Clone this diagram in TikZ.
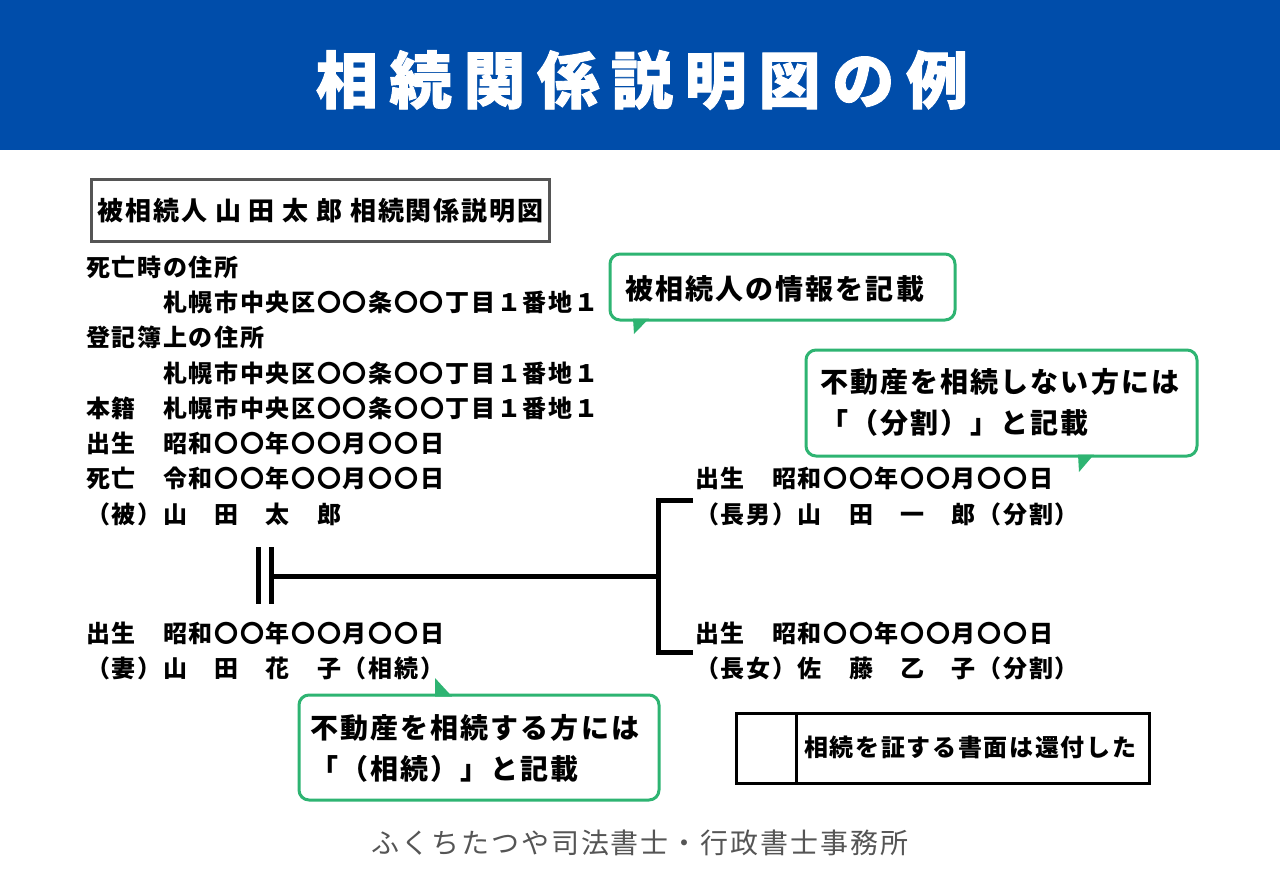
\documentclass[tikz,border=0pt]{standalone}
\usepackage{fontspec}
\newfontfamily\jp{Noto Sans CJK JP}
\newfontfamily\jptitle{Noto Sans CJK JP}[BoldFeatures={FakeBold=1.5}]
\definecolor{hdrblue}{RGB}{0,77,170}
\definecolor{cgreen}{RGB}{46,180,114}
\definecolor{boxgray}{RGB}{85,85,85}
\definecolor{footgray}{RGB}{85,85,85}
\tikzset{
  body/.style={font=\jp\bfseries\fontsize{24}{24}\selectfont\addfontfeatures{LetterSpace=7}, anchor=west, inner sep=0pt},
  ctext/.style={font=\jp\bfseries\fontsize{28}{41}\selectfont\addfontfeatures{LetterSpace=7.5}, anchor=west, inner sep=0pt, align=left},
  callout/.style={draw=cgreen, line width=3pt, rounded corners=10pt, fill=white},
  tail/.style={fill=cgreen, draw=none},
  treeline/.style={line width=5pt, line join=miter},
  plainbox/.style={draw=black, line width=3pt, inner sep=0pt}
}
\begin{document}
\begin{tikzpicture}[x=1pt,y=-1pt]
\useasboundingbox[fill=white] (0,0) rectangle (1280,878);
% header
\fill[hdrblue] (0,0) rectangle (1280,150);
\node[font=\jptitle\bfseries\fontsize{62}{62}\selectfont\addfontfeatures{LetterSpace=19}, text=white, inner sep=0pt] (title) at (642,80) {相続関係説明図の例};
% title box
\node[draw=boxgray, line width=3pt, minimum width=458pt, minimum height=62pt, anchor=north west, inner sep=0pt,
  font=\jp\bfseries\fontsize{26}{26}\selectfont\addfontfeatures{LetterSpace=7}] (tbox) at (90,178) {被相続人 山 田 太 郎 相続関係説明図};
% left block
\node[body] (l1) at (86,267) {死亡時の住所};
\node[body] (l2) at (163,302) {札幌市中央区〇〇条〇〇丁目１番地１};
\node[body] (l3) at (86,337) {登記簿上の住所};
\node[body] (l4) at (163,373) {札幌市中央区〇〇条〇〇丁目１番地１};
\node[body] (l5) at (86,408) {本籍　札幌市中央区〇〇条〇〇丁目１番地１};
\node[body] (l6) at (86,443) {出生　昭和〇〇年〇〇月〇〇日};
\node[body] (l7) at (86,478) {死亡　令和〇〇年〇〇月〇〇日};
\node[body] (l8) at (86,514) {（被）山　田　太　郎};
% wife
\node[body] (w1) at (86,633) {出生　昭和〇〇年〇〇月〇〇日};
\node[body] (w2) at (86,668) {（妻）山　田　花　子（相続）};
% children
\node[body] (s1) at (695,478) {出生　昭和〇〇年〇〇月〇〇日};
\node[body] (s2) at (695,514) {（長男）山　田　一　郎（分割）};
\node[body] (d1) at (695,633) {出生　昭和〇〇年〇〇月〇〇日};
\node[body] (d2) at (695,668) {（長女）佐　藤　乙　子（分割）};
% tree lines
\coordinate (b1t) at (258,547); \coordinate (b1b) at (258,604);
\coordinate (b2t) at (271,547); \coordinate (b2b) at (271,604);
\coordinate (hl) at (271,576); \coordinate (hr) at (658,576);
\coordinate (brt) at (693,500); \coordinate (brtc) at (658,500);
\coordinate (brb) at (693,652); \coordinate (brbc) at (658,652);
\draw[treeline] (b1t) -- (b1b);
\draw[treeline] (b2t) -- (b2b);
\draw[treeline] (hl) -- (hr);
\draw[treeline] (brt) -- (brtc) -- (brbc) -- (brb);
% callout 1
\node[callout, minimum width=345pt, minimum height=66pt, inner sep=0pt] (c1) at (782.5,287) {};
\fill[tail] (633,318.5) -- (649,318.5) -- (634,334) -- cycle;
\node[ctext] (c1t) at (625,289) {被相続人の情報を記載};
% callout 2
\node[callout, minimum width=391pt, minimum height=106pt, inner sep=0pt] (c2) at (1001.5,403) {};
\fill[tail] (1078,454.5) -- (1094,454.5) -- (1079,472) -- cycle;
\node[ctext] (c2t) at (820,402) {不動産を相続しない方には\\「（分割）」と記載};
% callout 3
\node[callout, minimum width=360pt, minimum height=105pt, inner sep=0pt] (c3) at (479,747.5) {};
\fill[tail] (435,678) -- (435,696.5) -- (452,696.5) -- cycle;
\node[ctext] (c3t) at (310,748) {不動産を相続する方には\\「（相続）」と記載};
% note box
\node[plainbox, minimum width=60pt, minimum height=70pt, anchor=north west] (chk) at (735,712) {};
\node[plainbox, minimum width=353pt, minimum height=70pt, anchor=north west] (note) at (795,712) {};
\node[body] (notet) at (804,747) {相続を証する書面は還付した};
% footer
\node[font=\jp\fontsize{28}{28}\selectfont\addfontfeatures{LetterSpace=7}, text=footgray, inner sep=0pt] (foot) at (640,843) {ふくちたつや司法書士・行政書士事務所};
\end{tikzpicture}
\end{document}
